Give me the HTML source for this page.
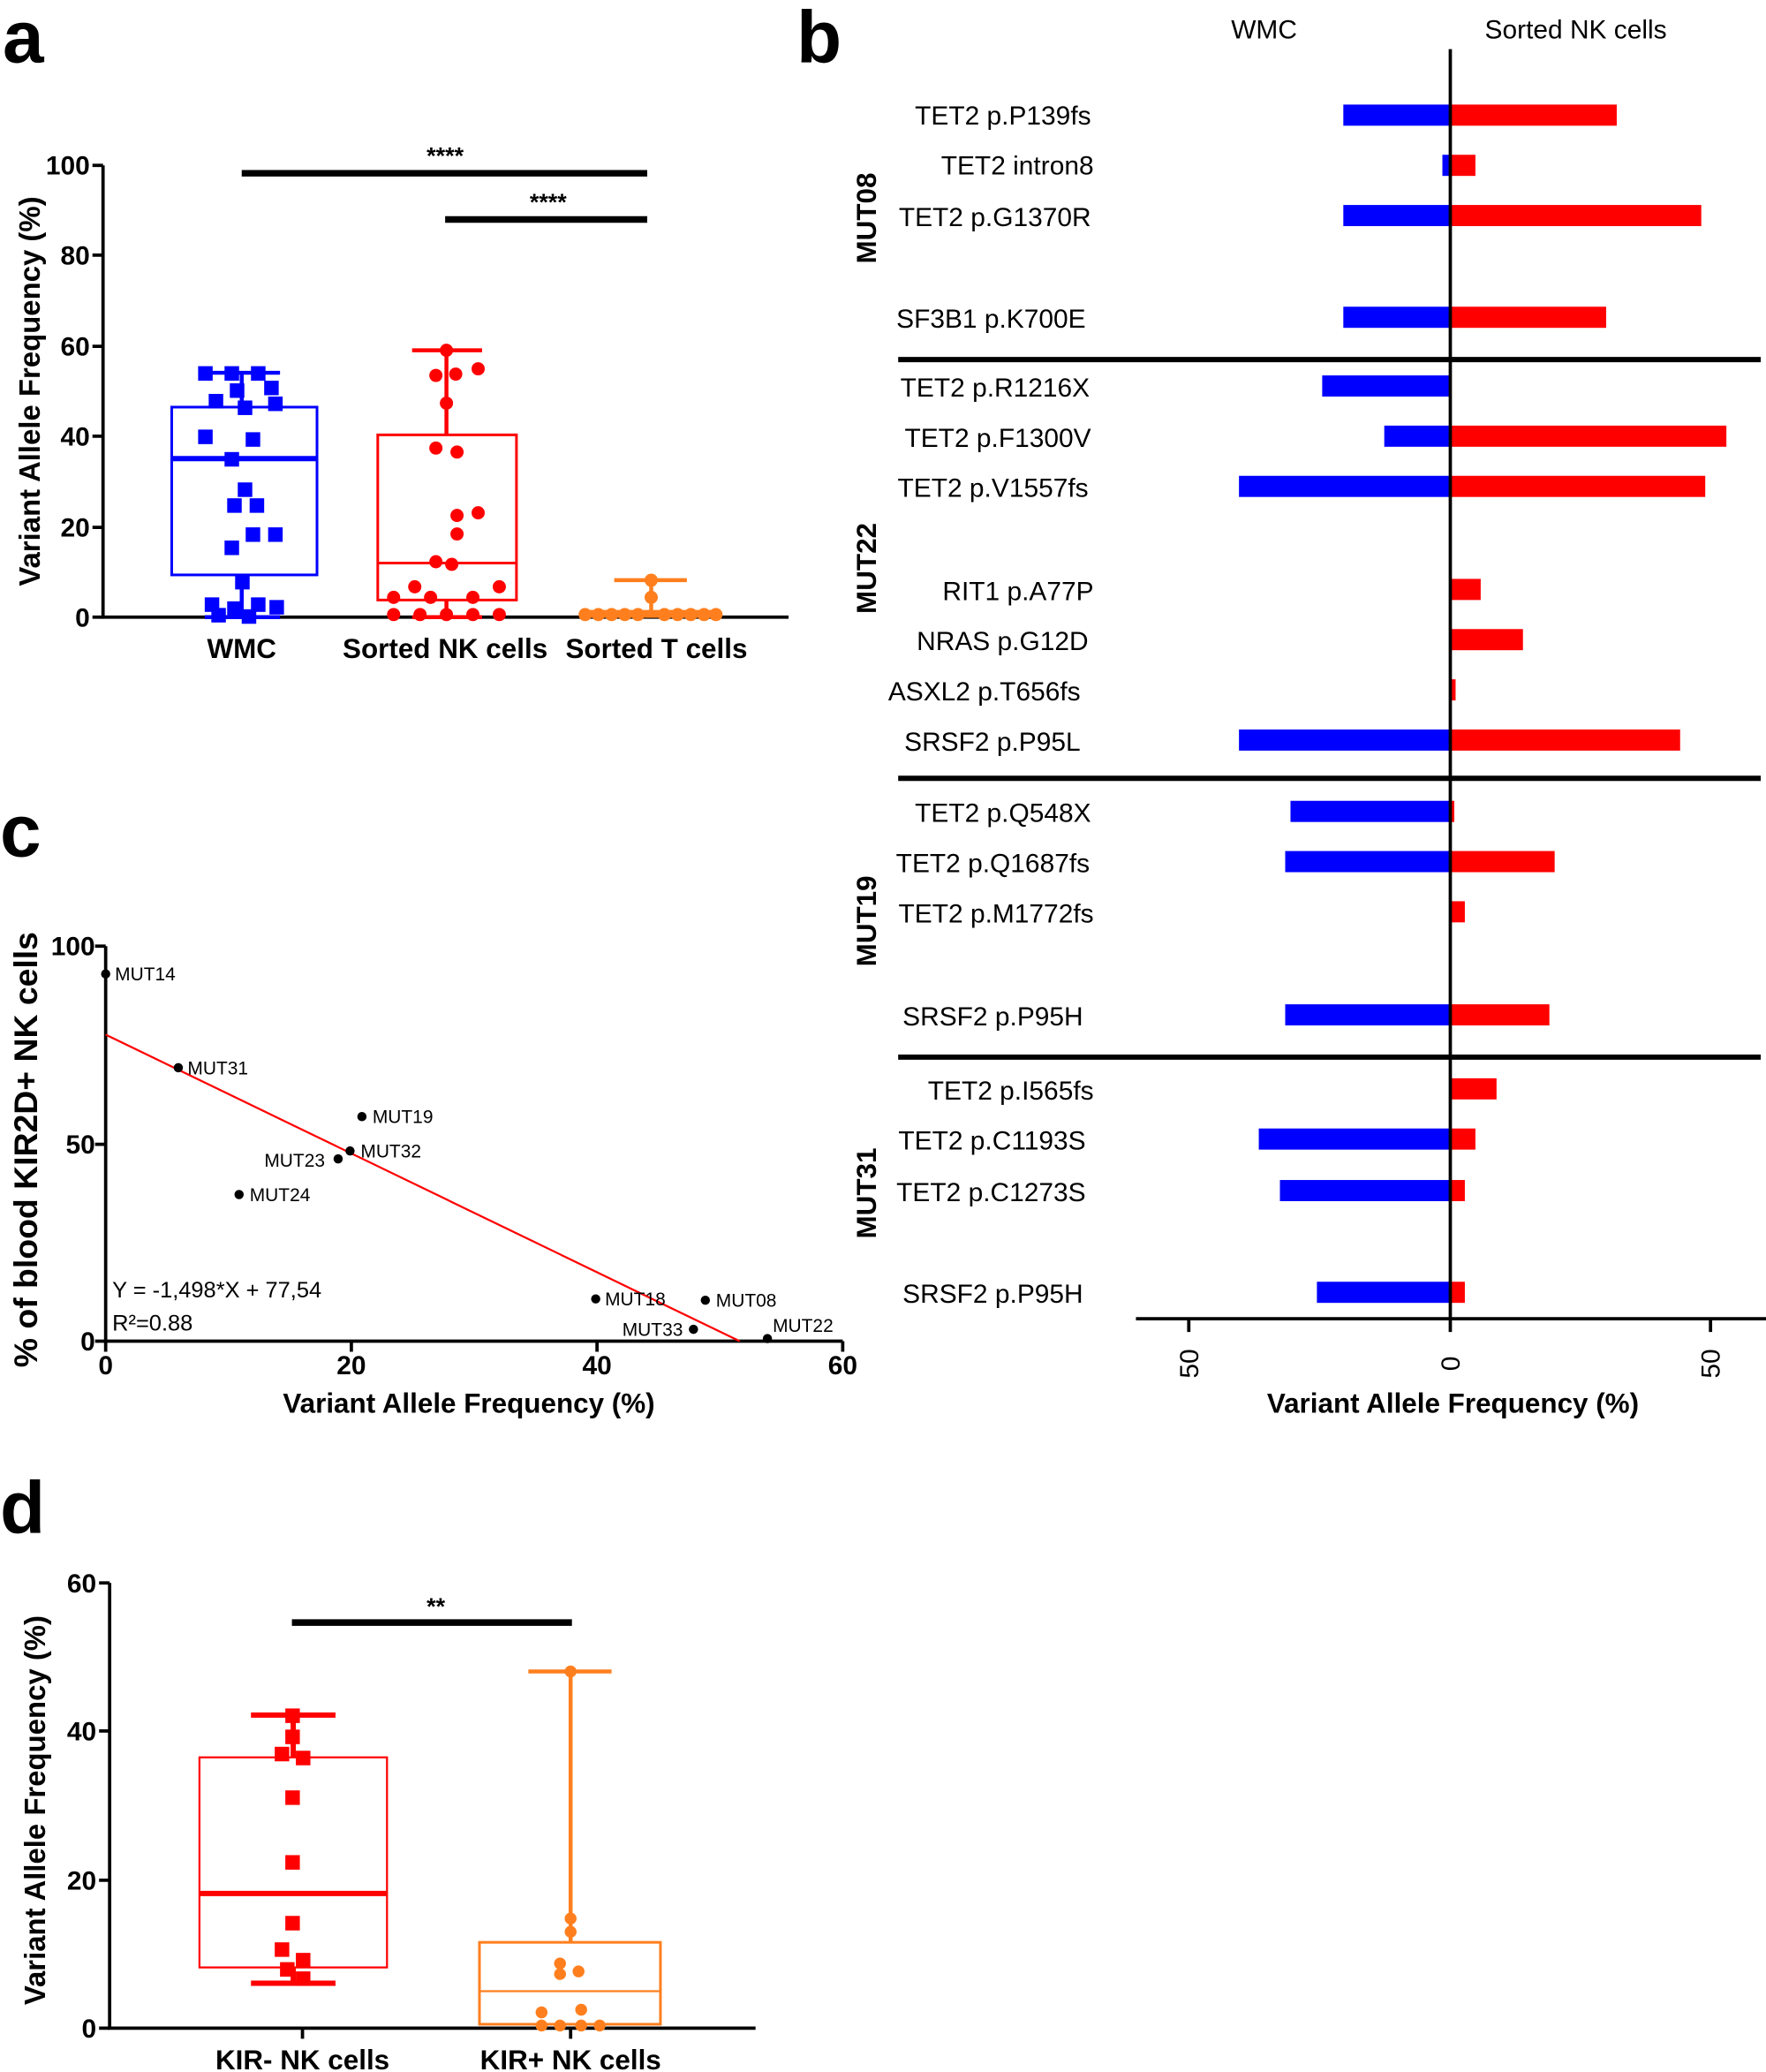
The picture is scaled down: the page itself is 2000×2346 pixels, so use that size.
<!DOCTYPE html>
<html><head><meta charset="utf-8"><style>html,body{margin:0;padding:0;background:#fff}svg{display:block}text{font-family:"Liberation Sans",sans-serif}</style></head>
<body>
<svg width="2000" height="2346" viewBox="0 0 1337 1568" xmlns="http://www.w3.org/2000/svg">
<g font-weight="bold" font-size="56">
<text x="2" y="47">a</text><text x="603" y="47">b</text><text x="0" y="648">c</text><text x="0" y="1160">d</text>
</g>
<!-- Panel a -->
<g stroke="#000" stroke-width="2.5" fill="none">
<path d="M78,125V467H597"/>
<path d="M70,125H78M70,193H78M70,262H78M70,330H78M70,399H78M70,467H78"/>
<path d="M183,131H490" stroke-width="5"/><path d="M337,166H490" stroke-width="5"/>
</g>
<g font-size="20" font-weight="bold" text-anchor="end">
<text x="68" y="132">100</text><text x="68" y="200">80</text><text x="68" y="269">60</text><text x="68" y="337">40</text><text x="68" y="406">20</text><text x="68" y="474">0</text>
</g>
<text x="337" y="124" font-size="18" font-weight="bold" text-anchor="middle">****</text>
<text x="415" y="159" font-size="18" font-weight="bold" text-anchor="middle">****</text>
<text transform="translate(30,296) rotate(-90)" font-size="22" font-weight="bold" text-anchor="middle">Variant Allele Frequency (%)</text>
<g font-size="21" font-weight="bold" text-anchor="middle"><text x="183" y="498">WMC</text><text x="337" y="498">Sorted NK cells</text><text x="497" y="498">Sorted T cells</text></g>
<g stroke="#0000ff" stroke-width="2" fill="none">
<rect x="130" y="308" width="110" height="127"/>
<path d="M130,347H240" stroke-width="4"/>
<path d="M183,308V282M183,435V467M155,282H212M155,467H212" stroke-width="3"/>
</g>
<g fill="#0000ff">
<rect x="150" y="277" width="11" height="11"/><rect x="170" y="277" width="11" height="11"/><rect x="190" y="277" width="11" height="11"/><rect x="174" y="290" width="11" height="11"/><rect x="200" y="288" width="11" height="11"/>
<rect x="158" y="298" width="11" height="11"/><rect x="180" y="303" width="11" height="11"/><rect x="203" y="300" width="11" height="11"/><rect x="150" y="325" width="11" height="11"/><rect x="186" y="327" width="11" height="11"/>
<rect x="170" y="342" width="11" height="11"/><rect x="180" y="365" width="11" height="11"/><rect x="172" y="377" width="11" height="11"/><rect x="189" y="377" width="11" height="11"/><rect x="203" y="399" width="11" height="11"/>
<rect x="170" y="409" width="11" height="11"/><rect x="186" y="399" width="11" height="11"/><rect x="178" y="435" width="11" height="11"/><rect x="155" y="452" width="11" height="11"/><rect x="172" y="455" width="11" height="11"/>
<rect x="190" y="452" width="11" height="11"/><rect x="204" y="454" width="11" height="11"/><rect x="160" y="460" width="11" height="11"/><rect x="183" y="461" width="11" height="11"/>
</g>
<g stroke="#ff0000" stroke-width="2" fill="none">
<rect x="286" y="329" width="105" height="125"/>
<path d="M286,426H391"/>
<path d="M338,329V265M338,454V467M312,265H365M312,467H365" stroke-width="3"/>
</g>
<g fill="#ff0000">
<circle cx="338" cy="265" r="5"/><circle cx="330" cy="284" r="5"/><circle cx="362" cy="279" r="5"/><circle cx="345" cy="283" r="5"/><circle cx="338" cy="305" r="5"/><circle cx="330" cy="339" r="5"/><circle cx="346" cy="342" r="5"/><circle cx="362" cy="388" r="5"/><circle cx="346" cy="390" r="5"/><circle cx="346" cy="404" r="5"/><circle cx="330" cy="425" r="5"/><circle cx="342" cy="427" r="5"/><circle cx="314" cy="444" r="5"/><circle cx="378" cy="444" r="5"/><circle cx="298" cy="452" r="5"/><circle cx="326" cy="452" r="5"/><circle cx="358" cy="452" r="5"/><circle cx="298" cy="465" r="5"/><circle cx="318" cy="465" r="5"/><circle cx="338" cy="465" r="5"/><circle cx="358" cy="465" r="5"/><circle cx="378" cy="465" r="5"/>
</g>
<g stroke="#ff7f1e" stroke-width="3" fill="none"><path d="M465,439H520M493,439V465M440,463H545M440,466H545"/></g>
<g fill="#ff7f1e"><circle cx="493" cy="439" r="5"/><circle cx="493" cy="452" r="5"/>
<circle cx="443" cy="465" r="5"/><circle cx="453" cy="465" r="5"/><circle cx="463" cy="465" r="5"/><circle cx="473" cy="465" r="5"/><circle cx="483" cy="465" r="5"/><circle cx="503" cy="465" r="5"/><circle cx="513" cy="465" r="5"/><circle cx="523" cy="465" r="5"/><circle cx="533" cy="465" r="5"/><circle cx="542" cy="465" r="5"/></g>
<!-- Panel b -->
<g font-size="20" text-anchor="middle"><text x="957" y="29">WMC</text><text x="1193" y="29">Sorted NK cells</text></g>
<g fill="#0000ff">
<rect x="1017" y="79" width="81" height="16"/><rect x="1092" y="117" width="6" height="16"/><rect x="1017" y="155" width="81" height="16"/><rect x="1017" y="232" width="81" height="16"/>
<rect x="1001" y="284" width="97" height="16"/><rect x="1048" y="322" width="50" height="16"/><rect x="938" y="360" width="160" height="16"/><rect x="938" y="552" width="160" height="16"/>
<rect x="977" y="606" width="121" height="16"/><rect x="973" y="644" width="125" height="16"/><rect x="973" y="760" width="125" height="16"/>
<rect x="953" y="854" width="145" height="16"/><rect x="969" y="893" width="129" height="16"/><rect x="997" y="970" width="101" height="16"/>
</g>
<g fill="#ff0000">
<rect x="1098" y="79" width="126" height="16"/><rect x="1098" y="117" width="19" height="16"/><rect x="1098" y="155" width="190" height="16"/><rect x="1098" y="232" width="118" height="16"/>
<rect x="1098" y="322" width="209" height="16"/><rect x="1098" y="360" width="193" height="16"/><rect x="1098" y="438" width="23" height="16"/><rect x="1098" y="476" width="55" height="16"/><rect x="1098" y="514" width="4" height="16"/><rect x="1098" y="552" width="174" height="16"/>
<rect x="1098" y="606" width="3" height="16"/><rect x="1098" y="644" width="79" height="16"/><rect x="1098" y="682" width="11" height="16"/><rect x="1098" y="760" width="75" height="16"/>
<rect x="1098" y="816" width="35" height="16"/><rect x="1098" y="854" width="19" height="16"/><rect x="1098" y="893" width="11" height="16"/><rect x="1098" y="970" width="11" height="16"/>
</g>
<g stroke="#000" fill="none">
<path d="M1098,37V998" stroke-width="2.5"/>
<path d="M680,272H1333M680,589H1333M680,800H1333" stroke-width="4"/>
<path d="M860,998H1337M900,998V1008M1098,998V1008M1295,998V1008" stroke-width="2.5"/>
</g>
<g font-size="20" text-anchor="end">
<text x="826" y="94">TET2 p.P139fs</text><text x="828" y="132">TET2 intron8</text><text x="826" y="171">TET2 p.G1370R</text><text x="822" y="248">SF3B1 p.K700E</text>
<text x="825" y="300">TET2 p.R1216X</text><text x="826" y="338">TET2 p.F1300V</text><text x="824" y="376">TET2 p.V1557fs</text>
<text x="828" y="454">RIT1 p.A77P</text><text x="824" y="492">NRAS p.G12D</text><text x="818" y="530">ASXL2 p.T656fs</text><text x="818" y="568">SRSF2 p.P95L</text>
<text x="826" y="622">TET2 p.Q548X</text><text x="825" y="660">TET2 p.Q1687fs</text><text x="828" y="698">TET2 p.M1772fs</text><text x="820" y="776">SRSF2 p.P95H</text>
<text x="828" y="832">TET2 p.I565fs</text><text x="822" y="870">TET2 p.C1193S</text><text x="822" y="909">TET2 p.C1273S</text><text x="820" y="986">SRSF2 p.P95H</text>
</g>
<g font-size="21" font-weight="bold" text-anchor="middle">
<text transform="translate(663,165) rotate(-90)">MUT08</text><text transform="translate(663,430) rotate(-90)">MUT22</text><text transform="translate(663,697) rotate(-90)">MUT19</text><text transform="translate(663,903) rotate(-90)">MUT31</text>
</g>
<g font-size="20" text-anchor="middle">
<text transform="translate(907,1032) rotate(-90)">50</text><text transform="translate(1105,1032) rotate(-90)">0</text><text transform="translate(1302,1032) rotate(-90)">50</text>
</g>
<text x="1100" y="1069" font-size="21" font-weight="bold" text-anchor="middle">Variant Allele Frequency (%)</text>
<!-- Panel c -->
<g stroke="#000" stroke-width="2.5" fill="none">
<path d="M80,716V1015H638"/><path d="M72,716H80M72,866H80M72,1015H80M80,1015V1023M266,1015V1023M452,1015V1023M638,1015V1023"/>
</g>
<path d="M80,783L560,1015" stroke="#ff0000" stroke-width="1.5"/>
<g font-size="20" font-weight="bold" text-anchor="end"><text x="72" y="723">100</text><text x="72" y="873">50</text><text x="72" y="1022">0</text></g>
<g font-size="20" font-weight="bold" text-anchor="middle"><text x="80" y="1040">0</text><text x="266" y="1040">20</text><text x="452" y="1040">40</text><text x="638" y="1040">60</text></g>
<text transform="translate(28,870) rotate(-90)" font-size="25" font-weight="bold" text-anchor="middle">% of blood KIR2D+ NK cells</text>
<text x="355" y="1069" font-size="21" font-weight="bold" text-anchor="middle">Variant Allele Frequency (%)</text>
<g fill="#000"><circle cx="80" cy="737" r="3.5"/><circle cx="135" cy="808" r="3.5"/><circle cx="274" cy="845" r="3.5"/><circle cx="265" cy="871" r="3.5"/><circle cx="256" cy="877" r="3.5"/><circle cx="181" cy="904" r="3.5"/><circle cx="451" cy="983" r="3.5"/><circle cx="534" cy="984" r="3.5"/><circle cx="525" cy="1006" r="3.5"/><circle cx="581" cy="1013" r="3.5"/></g>
<g font-size="14"><text x="87" y="742">MUT14</text><text x="142" y="813">MUT31</text><text x="282" y="850">MUT19</text><text x="273" y="876">MUT32</text><text x="246" y="883" text-anchor="end">MUT23</text><text x="189" y="909">MUT24</text><text x="458" y="988">MUT18</text><text x="542" y="989">MUT08</text><text x="517" y="1011" text-anchor="end">MUT33</text><text x="585" y="1008">MUT22</text></g>
<g font-size="17"><text x="85" y="982">Y = -1,498*X + 77,54</text><text x="85" y="1007">R²=0.88</text></g>
<!-- Panel d -->
<g stroke="#000" stroke-width="2.5" fill="none">
<path d="M83,1198V1535H572"/><path d="M75,1198H83M75,1310H83M75,1423H83M75,1535H83M229,1535V1543M432,1535V1543"/>
<path d="M221,1228H433" stroke-width="5"/>
</g>
<text x="330" y="1222" font-size="18" font-weight="bold" text-anchor="middle">**</text>
<g font-size="20" font-weight="bold" text-anchor="end"><text x="73" y="1205">60</text><text x="73" y="1317">40</text><text x="73" y="1430">20</text><text x="73" y="1542">0</text></g>
<text transform="translate(34,1370) rotate(-90)" font-size="22" font-weight="bold" text-anchor="middle">Variant Allele Frequency (%)</text>
<g font-size="21" font-weight="bold" text-anchor="middle"><text x="229" y="1566">KIR- NK cells</text><text x="432" y="1566">KIR+ NK cells</text></g>
<g stroke="#ff0000" fill="none">
<rect x="151" y="1330" width="142" height="159" stroke-width="1.5"/>
<path d="M151,1433H293" stroke-width="4"/>
<path d="M222,1330V1298M222,1489V1501M190,1298H254M190,1501H254" stroke-width="4"/>
</g>
<g fill="#ff0000"><rect x="216" y="1293" width="11" height="11"/><rect x="216" y="1309" width="11" height="11"/><rect x="208" y="1322" width="11" height="11"/><rect x="224" y="1325" width="11" height="11"/><rect x="216" y="1355" width="11" height="11"/><rect x="216" y="1404" width="11" height="11"/><rect x="216" y="1450" width="11" height="11"/><rect x="208" y="1470" width="11" height="11"/><rect x="224" y="1478" width="11" height="11"/><rect x="212" y="1485" width="11" height="11"/><rect x="224" y="1492" width="11" height="11"/></g>
<g stroke="#ff7f1e" fill="none">
<rect x="363" y="1470" width="137" height="62" stroke-width="2"/>
<path d="M363,1507H500" stroke-width="1.5"/>
<path d="M432,1470V1265M400,1265H463" stroke-width="3"/>
</g>
<g fill="#ff7f1e"><circle cx="432" cy="1265" r="4.5"/><circle cx="432" cy="1452" r="4.5"/><circle cx="432" cy="1462" r="4.5"/><circle cx="424" cy="1486" r="4.5"/><circle cx="438" cy="1492" r="4.5"/><circle cx="424" cy="1494" r="4.5"/><circle cx="410" cy="1523" r="4.5"/><circle cx="440" cy="1521" r="4.5"/><circle cx="410" cy="1533" r="4.5"/><circle cx="424" cy="1533" r="4.5"/><circle cx="440" cy="1533" r="4.5"/><circle cx="454" cy="1533" r="4.5"/></g>
</svg>
</body></html>
